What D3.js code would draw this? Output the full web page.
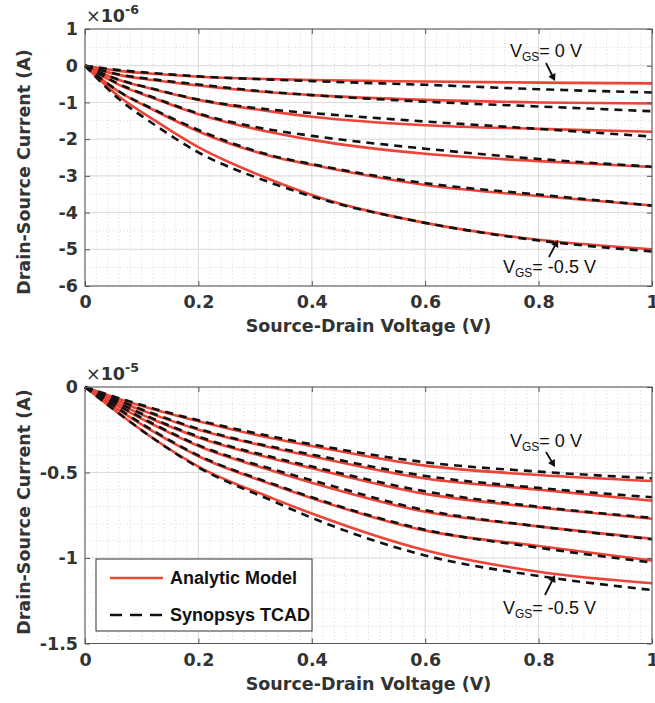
<!DOCTYPE html>
<html><head><meta charset="utf-8">
<script src="https://d3js.org/d3.v7.min.js"></script>
<style>
body { margin: 0; background: #fff; }
svg text { font-family: 'DejaVu Sans', sans-serif; }
</style>
</head>
<body>
<svg id="chart" width="655" height="703"></svg>
<script>
// source-drain voltage sample points (V)
const vsd = [0, 0.06, 0.12, 0.2, 0.33, 0.4, 0.6, 0.8, 1.0];

// top panel, x1e-6 A, VGS from 0 V down to -0.5 V
const topModel = [
  [0, -0.14, -0.22, -0.30, -0.365, -0.39, -0.43, -0.46, -0.48],
  [0, -0.25, -0.39, -0.54, -0.73, -0.80, -0.93, -1.00, -1.03],
  [0, -0.39, -0.64, -0.93, -1.25, -1.39, -1.62, -1.72, -1.80],
  [0, -0.52, -0.88, -1.32, -1.82, -2.02, -2.40, -2.60, -2.76],
  [0, -0.71, -1.20, -1.79, -2.47, -2.70, -3.25, -3.55, -3.81],
  [0, -0.84, -1.46, -2.22, -3.12, -3.52, -4.28, -4.74, -5.00]
];
const topTcad = [
  [0, -0.12, -0.20, -0.29, -0.38, -0.42, -0.52, -0.64, -0.73],
  [0, -0.24, -0.37, -0.51, -0.72, -0.80, -0.98, -1.11, -1.24],
  [0, -0.38, -0.63, -0.92, -1.20, -1.29, -1.52, -1.72, -1.93],
  [0, -0.50, -0.86, -1.30, -1.75, -1.91, -2.26, -2.54, -2.75],
  [0, -0.70, -1.18, -1.75, -2.45, -2.68, -3.20, -3.51, -3.81],
  [0, -0.91, -1.58, -2.36, -3.20, -3.56, -4.28, -4.76, -5.06]
];

// bottom panel, x1e-5 A
const botModel = [
  [0, -0.07, -0.13, -0.20, -0.30, -0.345, -0.46, -0.515, -0.55],
  [0, -0.085, -0.16, -0.25, -0.355, -0.405, -0.535, -0.60, -0.665],
  [0, -0.10, -0.19, -0.295, -0.418, -0.475, -0.625, -0.705, -0.77],
  [0, -0.115, -0.22, -0.345, -0.49, -0.56, -0.73, -0.815, -0.887],
  [0, -0.135, -0.26, -0.405, -0.57, -0.65, -0.84, -0.93, -1.015],
  [0, -0.155, -0.30, -0.465, -0.65, -0.74, -0.955, -1.08, -1.148]
];
const botTcad = [
  [0, -0.065, -0.125, -0.195, -0.29, -0.335, -0.44, -0.495, -0.534],
  [0, -0.08, -0.155, -0.245, -0.35, -0.395, -0.52, -0.59, -0.645],
  [0, -0.095, -0.185, -0.29, -0.41, -0.465, -0.61, -0.70, -0.765],
  [0, -0.11, -0.215, -0.34, -0.48, -0.545, -0.72, -0.815, -0.89],
  [0, -0.13, -0.255, -0.40, -0.565, -0.645, -0.835, -0.94, -1.027],
  [0, -0.155, -0.30, -0.47, -0.665, -0.765, -0.985, -1.105, -1.187]
];

const xTicks = [0, 0.2, 0.4, 0.6, 0.8, 1];
const topYTicks = [1, 0, -1, -2, -3, -4, -5, -6];
const botYTicks = [0, -0.5, -1, -1.5];
const legendLabels = ["Analytic Model", "Synopsys TCAD"];

const svg = d3.select('#chart');
const left = 85, right = 652;
const red = '#ec4436';

const x = d3.scaleLinear().domain([0, 1]).range([left, right]);

function drawPanel(p) {
  const y = d3.scaleLinear().domain(p.domain).range([p.bottom, p.top]);
  const g = svg.append('g');

  // minor grid (dotted)
  const xMinor = d3.range(0, 1.0001, 0.02);
  const yMinor = d3.range(p.domain[0], p.domain[1] + 1e-6, p.minorStep);
  g.selectAll('.mx').data(xMinor).join('line')
    .attr('x1', d => x(d)).attr('x2', d => x(d))
    .attr('y1', p.top).attr('y2', p.bottom)
    .attr('stroke', '#cfcfcf').attr('stroke-width', 0.8).attr('stroke-dasharray', '1,2.5');
  g.selectAll('.my').data(yMinor).join('line')
    .attr('x1', left).attr('x2', right)
    .attr('y1', d => y(d)).attr('y2', d => y(d))
    .attr('stroke', '#cfcfcf').attr('stroke-width', 0.8).attr('stroke-dasharray', '1,2.5');

  // major grid
  g.selectAll('.gx').data(xTicks).join('line')
    .attr('x1', d => x(d)).attr('x2', d => x(d))
    .attr('y1', p.top).attr('y2', p.bottom)
    .attr('stroke', '#dcdcdc').attr('stroke-width', 1);
  g.selectAll('.gy').data(p.ticks).join('line')
    .attr('x1', left).attr('x2', right)
    .attr('y1', d => y(d)).attr('y2', d => y(d))
    .attr('stroke', '#dcdcdc').attr('stroke-width', 1);

  // curves
  const line = d3.line()
    .x((d, i) => x(vsd[i]))
    .y(d => y(d))
    .curve(d3.curveMonotoneX);
  g.selectAll('.model').data(p.model).join('path')
    .attr('d', line).attr('fill', 'none')
    .attr('stroke', red).attr('stroke-width', 2.6);
  g.selectAll('.tcad').data(p.tcad).join('path')
    .attr('d', line).attr('fill', 'none')
    .attr('stroke', '#111').attr('stroke-width', 2.6)
    .attr('stroke-dasharray', '8,6');

  // axes
  const fmt = d => String(d);
  const styleAxis = sel => {
    sel.select('.domain').remove();
    sel.selectAll('.tick line').attr('stroke', '#555');
    sel.selectAll('.tick text')
      .attr('fill', '#333').style('font-size', '17.5px').style('font-weight', 'bold')
      .style('font-family', "'DejaVu Sans', sans-serif");
  };
  g.append('g').attr('transform', `translate(0,${p.bottom})`)
    .call(d3.axisBottom(x).tickValues(xTicks).tickFormat(fmt).tickSize(-5).tickPadding(10))
    .call(styleAxis);
  g.append('g').attr('transform', `translate(0,${p.top})`)
    .call(d3.axisTop(x).tickValues(xTicks).tickFormat('').tickSize(-5))
    .call(styleAxis);
  g.append('g').attr('transform', `translate(${left},0)`)
    .call(d3.axisLeft(y).tickValues(p.ticks).tickFormat(fmt).tickSize(-5).tickPadding(7))
    .call(styleAxis);
  g.append('g').attr('transform', `translate(${right},0)`)
    .call(d3.axisRight(y).tickValues(p.ticks).tickFormat('').tickSize(-5))
    .call(styleAxis);

  g.append('rect')
    .attr('x', left).attr('y', p.top)
    .attr('width', right - left).attr('height', p.bottom - p.top)
    .attr('fill', 'none').attr('stroke', '#555').attr('stroke-width', 1);

  // exponent
  const ex = g.append('text').attr('x', 86).attr('y', p.top - 7)
    .attr('fill', '#333').style('font-size', '17.5px');
  ex.append('tspan').text('×');
  ex.append('tspan').style('font-weight', 'bold').text('10');
  ex.append('tspan').attr('dy', -8).style('font-size', '12.5px').style('font-weight', 'bold').text(p.exp);

  // axis labels
  g.append('text')
    .attr('x', (left + right) / 2).attr('y', p.bottom + 46)
    .attr('text-anchor', 'middle').attr('fill', '#333')
    .style('font-size', '17.5px').style('font-weight', 'bold')
    .text('Source-Drain Voltage (V)');
  g.append('text')
    .attr('transform', `translate(30,${p.labelY}) rotate(-90)`)
    .attr('text-anchor', 'middle').attr('fill', '#333')
    .style('font-size', '17.5px').style('font-weight', 'bold')
    .text('Drain-Source Current (A)');

  // VGS annotations
  p.notes.forEach(n => {
    const t = g.append('text').attr('x', n.tx).attr('y', n.ty)
      .attr('fill', '#111').style('font-family', "'Liberation Sans', Arial, sans-serif")
      .style('font-size', '18px');
    t.append('tspan').text('V');
    t.append('tspan').attr('dy', 4).style('font-size', '12px').text('GS');
    t.append('tspan').attr('dy', -4).text('= ' + n.label);
    const ang = Math.atan2(n.y2 - n.y1, n.x2 - n.x1);
    const hl = 7, hw = 4;
    g.append('line')
      .attr('x1', n.x1).attr('y1', n.y1)
      .attr('x2', n.x2 - Math.cos(ang) * hl * 0.8).attr('y2', n.y2 - Math.sin(ang) * hl * 0.8)
      .attr('stroke', '#111').attr('stroke-width', 1.8);
    const bx = n.x2 - Math.cos(ang) * hl, by = n.y2 - Math.sin(ang) * hl;
    g.append('path')
      .attr('d', `M${n.x2},${n.y2}L${bx - Math.sin(ang) * hw},${by + Math.cos(ang) * hw}L${bx + Math.sin(ang) * hw},${by - Math.cos(ang) * hw}Z`)
      .attr('fill', '#111');
  });
}

drawPanel({
  top: 29, bottom: 286, domain: [-6, 1], ticks: topYTicks, minorStep: 0.5,
  model: topModel, tcad: topTcad, exp: '-6', labelY: 172,
  notes: [
    { tx: 510, ty: 57, label: '0 V', x1: 546, y1: 63, x2: 555, y2: 81 },
    { tx: 503, ty: 273, label: '-0.5 V', x1: 549, y1: 257, x2: 558, y2: 240 }
  ]
});

drawPanel({
  top: 387, bottom: 643.5, domain: [-1.5, 0], ticks: botYTicks, minorStep: 0.1,
  model: botModel, tcad: botTcad, exp: '-5', labelY: 512,
  notes: [
    { tx: 510, ty: 447, label: '0 V', x1: 546, y1: 452, x2: 555, y2: 467 },
    { tx: 503, ty: 614, label: '-0.5 V', x1: 545, y1: 595, x2: 555, y2: 575 }
  ]
});

// legend
const lg = svg.append('g');
lg.append('rect').attr('x', 96).attr('y', 559).attr('width', 216).attr('height', 72)
  .attr('fill', '#fff').attr('stroke', '#333').attr('stroke-width', 1);
legendLabels.forEach((name, i) => {
  const yy = 578 + i * 37;
  lg.append('line').attr('x1', 110).attr('x2', 163).attr('y1', yy).attr('y2', yy)
    .attr('stroke', i === 0 ? red : '#111').attr('stroke-width', 2.6)
    .attr('stroke-dasharray', i === 0 ? null : '12,8');
  lg.append('text').attr('x', 170).attr('y', yy + 6)
    .attr('fill', '#111').style('font-family', "'Liberation Sans', Arial, sans-serif")
    .style('font-size', '18px').style('font-weight', 'bold').text(name);
});
</script>
</body></html>
